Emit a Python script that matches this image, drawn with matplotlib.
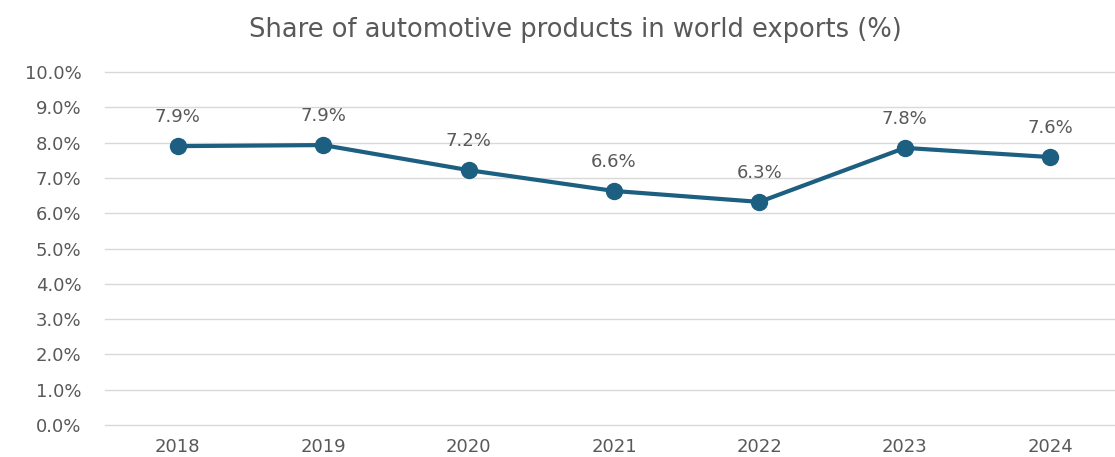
import matplotlib
matplotlib.use("Agg")
import matplotlib.pyplot as plt
from matplotlib.ticker import FuncFormatter, MultipleLocator

years = ["2018", "2019", "2020", "2021", "2022", "2023", "2024"]
share = [7.90, 7.93, 7.22, 6.63, 6.32, 7.85, 7.59]
labels = ["7.9%", "7.9%", "7.2%", "6.6%", "6.3%", "7.8%", "7.6%"]

line_color = "#1c5f80"
text_color = "#595959"
grid_color = "#d9d9d9"

plt.rcParams["font.family"] = ["DejaVu Sans"]

fig = plt.figure(figsize=(11.15, 4.57), dpi=100)
ax = fig.add_axes([105 / 1115, 32 / 457, (1123 - 105) / 1115, (425 - 72) / 457])

x = list(range(len(years)))
ax.plot(x, share, color=line_color, linewidth=3, marker="o", markersize=11.5,
        solid_capstyle="round", zorder=3)
for xi, yi, lab in zip(x, share, labels):
    ax.annotate(lab, (xi, yi), xytext=(0, 21), textcoords="offset points",
                ha="center", va="center", fontsize=13, color=text_color)

ax.set_xlim(-0.5, len(years) - 0.5)
ax.set_ylim(0, 10)
ax.yaxis.set_major_locator(MultipleLocator(1))
ax.yaxis.set_major_formatter(FuncFormatter(lambda v, p: f"{v:.1f}%"))
ax.set_xticks(x)
ax.set_xticklabels(years)
ax.tick_params(axis="both", length=0, labelsize=13, labelcolor=text_color)
ax.tick_params(axis="y", pad=17)
ax.tick_params(axis="x", pad=9)
ax.grid(axis="y", color=grid_color, linewidth=1)
for gl in ax.get_ygridlines():
    gl.set_clip_on(False)
ax.set_axisbelow(True)
for s in ax.spines.values():
    s.set_visible(False)

fig.text(575 / 1115, 1 - 30 / 457, "Share of automotive products in world exports (%)",
         ha="center", va="center", fontsize=18.5, color=text_color)

fig.savefig("out.png", dpi=100)
